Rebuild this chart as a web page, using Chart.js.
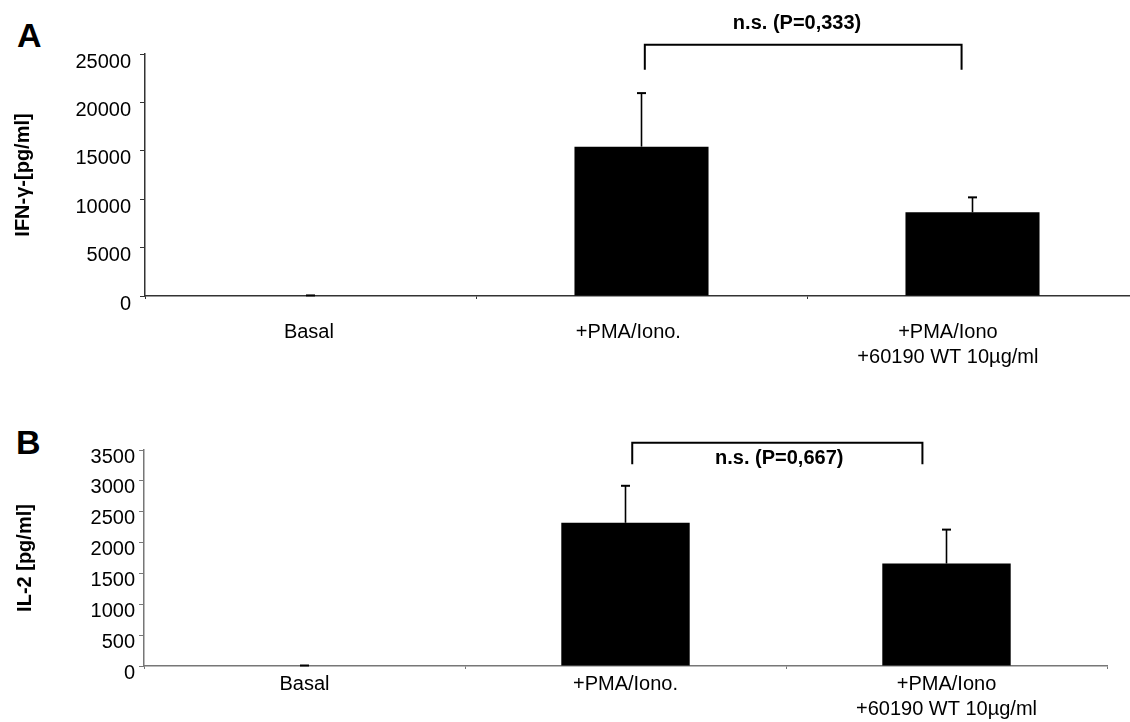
<!DOCTYPE html>
<html>
<head>
<meta charset="utf-8">
<script src="https://cdn.jsdelivr.net/npm/chart.js@4.4.1/dist/chart.umd.min.js"></script>
<style>
  html, body { margin: 0; padding: 0; background: #fff; }
  body { width: 1130px; height: 722px; overflow: hidden; position: relative; }
  canvas { position: absolute; left: 0; }
  #chartA { top: 0; }
  #chartB { top: 380px; }
  .panel { position: absolute; font: bold 34px "Liberation Sans", Arial, sans-serif; line-height: 1; color: #000; }
</style>
</head>
<body>
<div class="panel" style="left:17px; top:18px;">A</div>
<div class="panel" style="left:16px; top:425px;">B</div>
<canvas id="chartA" width="1145" height="380"></canvas>
<canvas id="chartB" width="1130" height="342"></canvas>
<script>
// Treatment groups (shared by both panels)
const categories = ['Basal', '+PMA/Iono.', ['+PMA/Iono', '+60190 WT 10µg/ml']];

// IFN-γ secretion, pg/ml (mean and SD)
const ifnMean = [0, 15430, 8640];
const ifnSd = [60, 5530, 1550];
const ifnTickValues = [0, 5000, 10000, 15000, 20000, 25000];

// IL-2 secretion, pg/ml (mean and SD)
const il2Mean = [0, 2320, 1660];
const il2Sd = [8, 600, 550];
const il2TickValues = [0, 500, 1000, 1500, 2000, 2500, 3000, 3500];

// Significance annotations
const ifnTest = 'n.s. (P=0,333)';
const il2Test = 'n.s. (P=0,667)';

const FONT = '"Liberation Sans", Arial, sans-serif';

// Mean ± SD whiskers drawn above each bar
function errorBarPlugin(sd) {
  return {
    id: 'errorBars',
    afterDatasetsDraw(chart) {
      const ctx = chart.ctx;
      const y = chart.scales.y;
      const values = chart.data.datasets[0].data;
      const meta = chart.getDatasetMeta(0);
      ctx.save();
      ctx.strokeStyle = '#000';
      meta.data.forEach((bar, i) => {
        const yBase = y.getPixelForValue(values[i]);
        const yTop = y.getPixelForValue(values[i] + sd[i]);
        ctx.lineWidth = 1.6;
        ctx.beginPath();
        ctx.moveTo(bar.x, yBase);
        ctx.lineTo(bar.x, yTop);
        ctx.stroke();
        ctx.lineWidth = 2;
        ctx.beginPath();
        ctx.moveTo(bar.x - 4.5, yTop);
        ctx.lineTo(bar.x + 4.5, yTop);
        ctx.stroke();
      });
      ctx.restore();
    }
  };
}

// Comparison bracket with its test result
function bracketPlugin(b) {
  return {
    id: 'bracket',
    afterDraw(chart) {
      const ctx = chart.ctx;
      const { x, y } = chart.scales;
      const x1 = x.getPixelForValue(b.from);
      const x2 = x.getPixelForValue(b.to);
      const yBar = y.getPixelForValue(b.bar);
      const yLeg = y.getPixelForValue(b.leg);
      ctx.save();
      ctx.strokeStyle = '#000';
      ctx.lineWidth = 2;
      ctx.lineJoin = 'miter';
      ctx.beginPath();
      ctx.moveTo(x1, yLeg);
      ctx.lineTo(x1, yBar);
      ctx.lineTo(x2, yBar);
      ctx.lineTo(x2, yLeg);
      ctx.stroke();
      ctx.fillStyle = '#000';
      ctx.font = 'bold 20px ' + FONT;
      ctx.textAlign = 'center';
      ctx.textBaseline = 'alphabetic';
      ctx.fillText(b.text, x.getPixelForValue(b.labelAt), y.getPixelForValue(b.labelY));
      ctx.restore();
    }
  };
}

function makeChart(id, cfg) {
  const tickFont = { family: FONT, size: 20 };
  const labelFont = { ...tickFont, lineHeight: 1.25 };
  const scales = {
    x: {
      offset: true,
      weight: 0,
      grid: { display: true, drawOnChartArea: false, offset: true, tickLength: 3, color: cfg.axisColor, lineWidth: 1 },
      border: { display: true, color: cfg.axisColor, width: cfg.axisWidth },
      ticks: { display: !cfg.labelAxis, color: '#000', font: labelFont, padding: cfg.xPad, maxRotation: 0, autoSkip: false },
      afterFit(s) { s.height = cfg.labelAxis ? 3 : cfg.xHeight; }
    },
    y: {
      min: cfg.ticks[0],
      max: cfg.ticks[cfg.ticks.length - 1],
      afterBuildTicks(s) { s.ticks = cfg.ticks.map(v => ({ value: v })); },
      grid: { display: true, drawOnChartArea: false, tickLength: 5, color: cfg.axisColor, lineWidth: 1 },
      border: { display: true, color: cfg.axisColor, width: cfg.axisWidth },
      ticks: { color: '#000', font: tickFont, padding: cfg.yPad, labelOffset: cfg.labelOffset, callback: v => String(v) },
      title: { display: true, text: cfg.title, color: '#000', font: { family: FONT, size: 20, weight: 'bold' }, padding: { top: cfg.titlePad, bottom: 0 } },
      afterFit(s) { s.width = cfg.yWidth; }
    }
  };
  if (cfg.labelAxis) {
    // separate label row for the group names
    scales.xl = {
      type: 'linear',
      position: 'bottom',
      weight: 1,
      offset: false,
      min: cfg.labelAxis.min,
      max: cfg.labelAxis.max,
      afterBuildTicks(s) { s.ticks = categories.map((c, i) => ({ value: i })); },
      grid: { display: false, drawTicks: false, offset: false },
      border: { display: false },
      ticks: { color: '#000', font: labelFont, padding: cfg.xPad, maxRotation: 0, autoSkip: false, callback: v => categories[v] },
      afterFit(s) { s.height = cfg.xHeight - 3; }
    };
  }
  return new Chart(document.getElementById(id), {
    type: 'bar',
    data: {
      labels: categories,
      datasets: [{
        data: cfg.mean,
        xAxisID: 'x',
        yAxisID: 'y',
        backgroundColor: '#000',
        borderWidth: 0,
        categoryPercentage: 1,
        barPercentage: cfg.barPct
      }]
    },
    options: {
      responsive: false,
      animation: false,
      devicePixelRatio: 1,
      layout: { padding: cfg.padding },
      plugins: { legend: { display: false }, tooltip: { enabled: false } },
      scales
    },
    plugins: [errorBarPlugin(cfg.sd), bracketPlugin(cfg.bracket)]
  });
}

makeChart('chartA', {
  mean: ifnMean, sd: ifnSd, ticks: ifnTickValues,
  title: 'IFN-γ-[pg/ml]',
  barPct: 0.405,
  padding: { top: 54, right: 7, left: 0, bottom: 0 },
  axisColor: '#333', axisWidth: 1.5,
  xPad: 21, xHeight: 84, yPad: 9, labelOffset: 8, yWidth: 145, titlePad: 11,
  labelAxis: { min: -0.513, max: 2.595 },
  bracket: { from: 1.01, to: 1.967, bar: 25960, leg: 23370, text: ifnTest, labelAt: 1.47, labelY: 27620 }
});

makeChart('chartB', {
  mean: il2Mean, sd: il2Sd, ticks: il2TickValues,
  title: 'IL-2 [pg/ml]',
  barPct: 0.4,
  padding: { top: 70, right: 23, left: 0, bottom: 0 },
  axisColor: '#777', axisWidth: 1.5,
  xPad: 3, xHeight: 56, yPad: 4, labelOffset: 7, yWidth: 144, titlePad: 13,
  bracket: { from: 1.021, to: 1.925, bar: 3618, leg: 3268, text: il2Test, labelAt: 1.479, labelY: 3273 }
});
</script>
</body>
</html>
